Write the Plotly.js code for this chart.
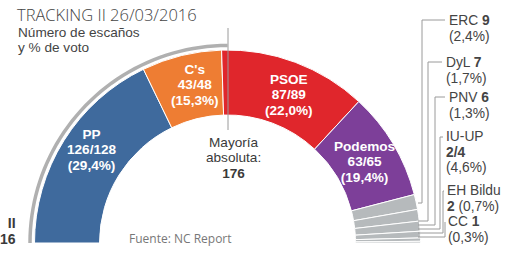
<!DOCTYPE html>
<html>
<head>
<meta charset="utf-8">
<script src="https://cdn.plot.ly/plotly-3.0.1.min.js"></script>
<style>
html,body{margin:0;padding:0;overflow:hidden;background:#fff;}
#chart{width:510px;height:490px;}
</style>
</head>
<body>
<div id="chart"></div>
<script>
// ---- data ----
const parties   = ['PP', "C's", 'PSOE', 'Podemos', 'ERC', 'DyL', 'PNV', 'IU-UP', 'EH Bildu', 'CC'];
const seatsMin  = [126, 43, 87, 63, 9, 7, 6, 2, 2, 1];
const seatsMax  = [128, 48, 89, 65, 9, 7, 6, 4, 2, 1];
const votePct   = [29.4, 15.3, 22.0, 19.4, 2.4, 1.7, 1.3, 4.6, 0.7, 0.3];
const majority  = 176;
const titleText = 'TRACKING II 26/03/2016';
const source    = 'Fuente: NC Report';
const croppedText = ['II', '16'];

// ---- styles / positions ----
const colors = ['#3f6a9d', '#ee7d33', '#e0262c', '#7d3f99', '#b6babc', '#b6babc', '#b6babc', '#b6babc', '#b6babc', '#b6babc'];
const W = 510, H = 490;
const CX = 227.5, CY = 243, R = 193, RIN = 128;
const px = x => x / W;
const py = y => (H - y) / H;
const pct = v => '(' + v.toFixed(1).replace('.', ',') + '%)';
const FONT = '"Open Sans", "Liberation Sans", sans-serif';
const FONT2 = '"Liberation Sans", Arial, sans-serif';

const total = seatsMax.reduce((a, b) => a + b, 0);
const values = seatsMax.concat([total]);
const sliceColors = colors.concat(['rgba(0,0,0,0)']);
const lineW = seatsMax.map(() => 1).concat([0]);

const pie = {
  type: 'pie',
  values: values,
  labels: parties.concat(['_hidden']),
  sort: false,
  direction: 'clockwise',
  rotation: 270,
  hole: RIN / R,
  textinfo: 'none',
  hoverinfo: 'skip',
  showlegend: false,
  marker: {colors: sliceColors, line: {color: '#ffffff', width: lineW}},
  domain: {x: [px(CX - R), px(CX + R)], y: [py(CY + R), py(CY - R)]}
};

const ann = [];
function T(x, y, text, opts) {
  ann.push(Object.assign({
    xref: 'paper', yref: 'paper', x: px(x), y: py(y), text: text,
    showarrow: false, xanchor: 'left', yanchor: 'middle', align: 'left',
    font: {family: FONT2, size: 14, color: '#3a3a3a'}
  }, opts || {}));
}
// multi-line text: line spacing driven by outer size, glyph size by inner span
function M(x, y, lines, spacing, glyph, color, opts) {
  const txt = lines.map(l => `<span style="font-size:${glyph}px">${l}</span>`).join('<br>');
  T(x, y, txt, Object.assign({font: {family: FONT2, size: spacing / 1.3, color: color}}, opts || {}));
}

// title
T(15, 14, titleText, {font: {family: FONT, size: 16.5, color: '#444', weight: 300}});
M(16, 40.5, ['Número de escaños', 'y % de voto'], 15.4, 13.6, '#444');

// inner labels for main parties
const innerPos = [[92, 150], [195, 85], [289, 95], [364, 162]];
for (let i = 0; i < 4; i++) {
  const [x, y] = innerPos[i];
  const lines = [parties[i], seatsMin[i] + '/' + seatsMax[i], pct(votePct[i])].map(t => '<b>' + t + '</b>');
  M(x, y, lines, 15.4, 13.6, '#ffffff', {xanchor: 'center', align: 'center'});
}

// majority text
M(233, 158, ['Mayoría', 'absoluta:', '<b>' + majority + '</b>'], 15.4, 13.6, '#3a3a3a', {xanchor: 'center', align: 'center'});

// source
T(127, 238, source, {font: {family: FONT, size: 12, color: '#777'}});

// cropped left text (only its visible part)
M(17, 231, croppedText.map(t => '<b>' + t + '</b>'), 16, 14, '#3a3a3a', {xanchor: 'right', align: 'right', borderpad: 0});

// right-side labels for small parties
const smallLabels = [
  [447, 28,    [parties[4] + ' <b>' + seatsMax[4] + '</b>', pct(votePct[4])]],
  [444, 70,    [parties[5] + ' <b>' + seatsMax[5] + '</b>', pct(votePct[5])]],
  [447, 105,   [parties[6] + ' <b>' + seatsMax[6] + '</b>', pct(votePct[6])]],
  [444, 152.5, [parties[7], '<b>' + seatsMin[7] + '/' + seatsMax[7] + '</b>', pct(votePct[7])]],
  [445, 198.5, [parties[8], '<b>' + seatsMax[8] + '</b> ' + pct(votePct[8])]],
  [446, 230,   [parties[9] + ' <b>' + seatsMax[9] + '</b>', pct(votePct[9])]]
];
smallLabels.forEach(([x, y, lines]) => M(x, y, lines, 15.7, 13.8, '#444'));

// leader lines: [slice y, vertical x, label y, text x]
const leaders = [[203, 422, 20, 445], [221, 428, 62, 442], [225, 435, 97, 445], [229, 440, 137, 443], [233, 443, 191, 444], [237, 445, 222, 445]];
const shapes = leaders.map(([sy, vx, ly, tx]) => ({
  type: 'path', xref: 'paper', yref: 'paper', layer: 'above',
  path: `M${px(418)},${py(sy)} L${px(vx)},${py(sy)} L${px(vx)},${py(ly)} L${px(tx)},${py(ly)}`,
  line: {color: '#9a9a9a', width: 1}
}));

// grey outer arc over the left quarter
let arc = '';
const RA = 197.5;
for (let a = 180; a >= 90; a -= 2) {
  const r = a * Math.PI / 180;
  const x = CX + RA * Math.cos(r), y = CY - RA * Math.sin(r);
  arc += (arc ? ' L' : 'M') + px(x) + ',' + py(y);
}
shapes.push({type: 'path', xref: 'paper', yref: 'paper', path: arc, line: {color: '#b0b0b0', width: 3.5}});

// majority line
shapes.push({type: 'line', xref: 'paper', yref: 'paper', layer: 'above',
  x0: px(228), x1: px(228), y0: py(28), y1: py(130), line: {color: '#9a9a9a', width: 1}});

Plotly.newPlot('chart', [pie], {
  width: W, height: H, autosize: false,
  margin: {l: 0, r: 0, t: 0, b: 0, pad: 0},
  paper_bgcolor: '#ffffff', plot_bgcolor: '#ffffff',
  showlegend: false,
  annotations: ann, shapes: shapes
}, {displayModeBar: false, staticPlot: true});
</script>
</body>
</html>
